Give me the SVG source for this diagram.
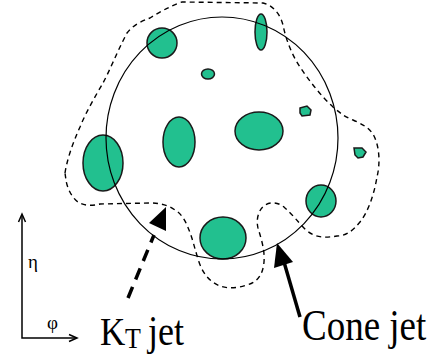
<svg xmlns="http://www.w3.org/2000/svg" width="434" height="356" viewBox="0 0 434 356">
<style>
.blob{fill:#22c08f;stroke:#1a1a1a;stroke-width:1.5}
.cone{fill:none;stroke:#000;stroke-width:1.2}
.jet{fill:none;stroke:#000;stroke-width:1.4;stroke-dasharray:5 4}
.ax{fill:none;stroke:#000;stroke-width:1.5}
.lbl{font-family:"Liberation Serif","Times New Roman",Times,"DejaVu Serif",serif}
</style>
<rect width="434" height="356" fill="#fff"/>
<g id="kt-contour"><path class="jet" d="M65,173 C67,160 72,145 80,127 C86,112 96,95 103,83 C110,70 117,52 127,33 C133,25 142,21 150,18 C160,12 170,6 182,2 L263,3 C272,5 280,13 283,25 C286,40 292,55 300,67 C310,82 322,97 333,107 C340,113 345,117 353,120 C362,124 370,128 374,136 C380,148 380,165 377,177 C374,195 368,212 360,222 C352,232 345,236 337,236 C325,238 315,238 306,230 C298,222 292,214 285,208 C280,203 272,201 265,205 C258,210 256,220 258,228 C261,238 265,250 264,262 C263,274 258,282 247,285 C238,288 228,289 220,286 C210,282 203,274 199,262 C195,250 193,240 189,230 C186,222 182,214 175,210 C168,205 160,203 150,203 L100,204 C92,206 84,206 78,202 C72,198 67,188 66,180 Z"/></g>
<g id="blobs">
<ellipse class="blob" cx="162" cy="43" rx="15" ry="15"/>
<ellipse class="blob" cx="261" cy="32" rx="6" ry="18"/>
<ellipse class="blob" cx="208" cy="74" rx="6.5" ry="5"/>
<path class="blob" d="M300,108 L307,106 L311,110 L310,115 L302,116 L300,113 Z"/>
<path class="blob" d="M354,148 L362,148 L366,152 L363,157 L358,158 L355,155 Z"/>
<ellipse class="blob" cx="179" cy="142" rx="16" ry="25"/>
<ellipse class="blob" cx="259" cy="131" rx="24" ry="19"/>
<ellipse class="blob" cx="103" cy="163" rx="20" ry="28"/>
<ellipse class="blob" cx="223" cy="238" rx="23" ry="21"/>
<ellipse class="blob" cx="321" cy="201" rx="15" ry="16"/>
</g>
<g id="cone-circle"><ellipse class="cone" cx="222" cy="138" rx="116" ry="121"/></g>
<g id="connectors">
<line x1="128" y1="298" x2="154" y2="235" stroke="#000" stroke-width="3.5" stroke-dasharray="12 8"/>
<polygon points="166,207 149,223 166,231" fill="#000"/>
<line x1="300" y1="317" x2="284" y2="262" stroke="#000" stroke-width="3.5"/>
<polygon points="277,243 274,268 293,262" fill="#000"/>
</g>
<g id="axes">
<path class="ax" d="M22,215 L22,338 L76,338"/>
<path class="ax" d="M18.5,222 L22,214 L25.5,222"/>
<path class="ax" d="M69,334.5 L77,338 L69,341.5"/>
<text class="lbl" x="28" y="268" font-size="19">η</text>
<text class="lbl" x="47" y="329" font-size="19">φ</text>
</g>
<g id="labels" class="lbl">
<text class="lbl" transform="translate(100,345) scale(1,1.17)" font-size="35">K</text>
<text class="lbl" transform="translate(125,348) scale(1,1.17)" font-size="26">T</text>
<text class="lbl" transform="translate(148,345) scale(1,1.17)" font-size="36">jet</text>
<text class="lbl" transform="translate(302,340) scale(1,1.17)" font-size="37">Cone jet</text>
</g>
</svg>
